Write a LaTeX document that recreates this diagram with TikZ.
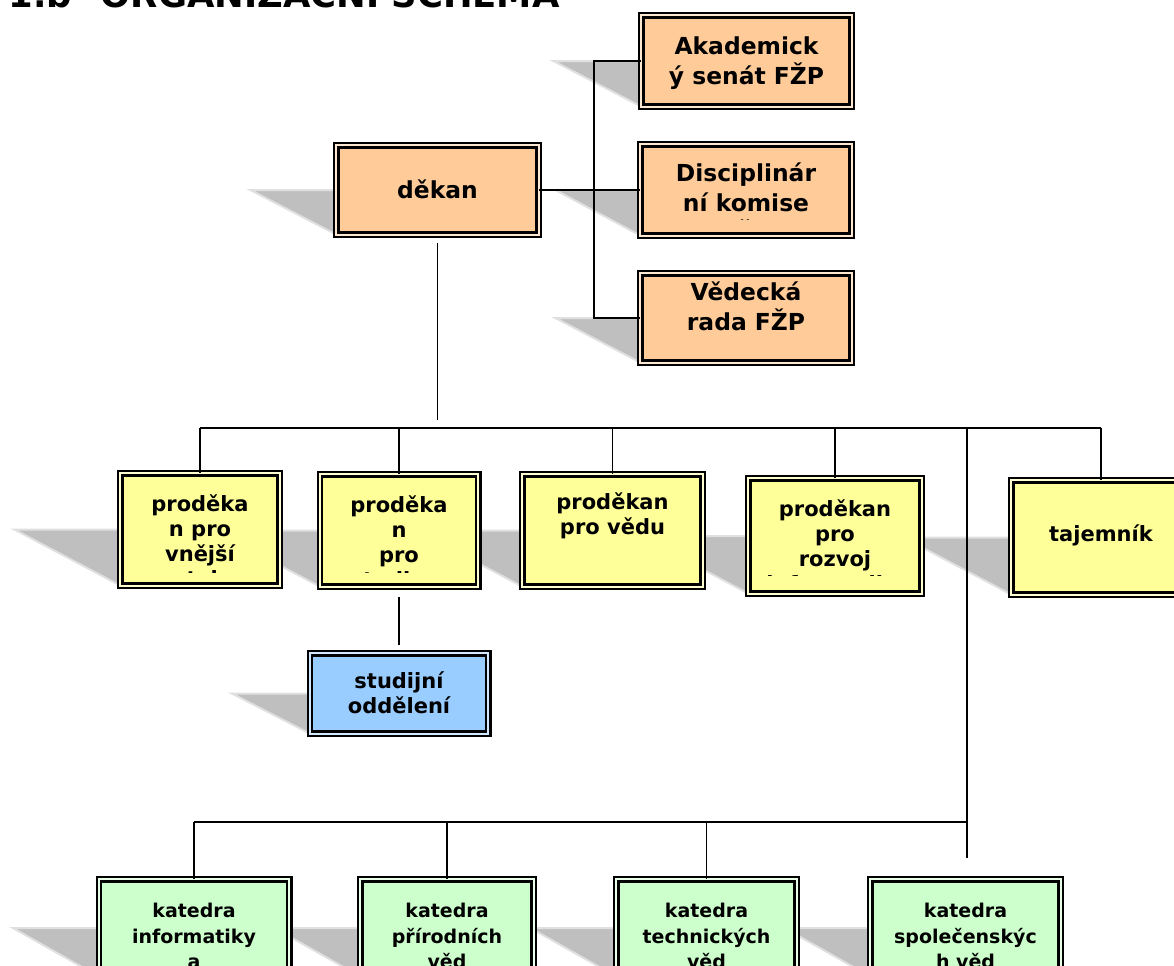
\documentclass[tikz,border=0pt]{standalone}
\usepackage{fontspec}
\setmainfont{DejaVu Sans}
\usetikzlibrary{calc}

\pgfdeclarelayer{background}
\pgfsetlayers{background,main}

\definecolor{orgfill}{HTML}{FFCC99}
\definecolor{prodfill}{HTML}{FFFF99}
\definecolor{studfill}{HTML}{99CCFF}
\definecolor{katfill}{HTML}{CCFFCC}

\tikzset{
  unitbox/.style={draw=black, fill=#1, double=white!55!#1, double distance=1pt, line width=1.2pt, inner sep=0pt, outer sep=0pt},
  shad/.style={fill=black!25, draw=black!12, line width=1pt},
  conn/.style={draw=black, line width=0.6pt},
  orgtext/.style={font=\bfseries\fontsize{11.7}{15}\selectfont, align=center, inner sep=0pt},
  prodtext/.style={font=\bfseries\fontsize{10.5}{12.5}\selectfont, align=center, inner sep=0pt},
  kattext/.style={font=\bfseries\fontsize{9.5}{12.7}\selectfont, align=center, inner sep=0pt},
  titletext/.style={font=\bfseries\fontsize{17.7}{21}\selectfont, inner sep=0pt}
}

\begin{document}
\begin{tikzpicture}[x=0.5pt, y=-0.5pt]

\useasboundingbox (0,0) rectangle (1174,965);
\clip (0,0) rectangle (1174,965);

% Heading (cut at the top)
\node[titletext, anchor=base west] (title) at (8,7) {1.b\hspace*{14.5pt}ORGANIZAČNÍ SCHÉMA};

%%%%%%%%%%%%%%%%%%%%%%%%%%%%%%%%%%%%%%%%%%%%%%%%%%%%%%%%%%%%%%%%
% Dean and councils
%%%%%%%%%%%%%%%%%%%%%%%%%%%%%%%%%%%%%%%%%%%%%%%%%%%%%%%%%%%%%%%%

\node[unitbox=orgfill, minimum width=101.1pt, minimum height=44.6pt] (dekan) at (437.5,190) {};
\node[orgtext] (dekan_t) at (437.5,189.5) {děkan};

\node[unitbox=orgfill, minimum width=105.1pt, minimum height=45.6pt] (akad) at (746.5,61) {};
\node[orgtext] (akad_t) at (746.5,63) {Akademick\\ý senát FŽP};

% text runs over the box, so it is cut
\node[unitbox=orgfill, minimum width=105.6pt, minimum height=45.6pt] (disc) at (746,190) {};
\begin{scope}
\clip (642,145) rectangle (850,219);
\node[orgtext] (disc_t) at (746,202.5) {Disciplinár\\ní komise\\FŽP};
\end{scope}

\node[unitbox=orgfill, minimum width=105.6pt, minimum height=44.6pt] (ved) at (746,318) {};
\node[orgtext] (ved_t) at (746,306) {Vědecká\\rada FŽP};

%%%%%%%%%%%%%%%%%%%%%%%%%%%%%%%%%%%%%%%%%%%%%%%%%%%%%%%%%%%%%%%%
% Vice-deans and secretary
%%%%%%%%%%%%%%%%%%%%%%%%%%%%%%%%%%%%%%%%%%%%%%%%%%%%%%%%%%%%%%%%

\node[unitbox=prodfill, minimum width=79.6pt, minimum height=56.1pt] (p1) at (200,529.5) {};
\begin{scope}
\clip (121,476) rectangle (279,572.5);
\node[prodtext] (p1_t) at (200,542.5) {proděka\\n pro\\vnější\\vztahy};
\end{scope}

\node[unitbox=prodfill, minimum width=79.1pt, minimum height=56.1pt] (p2) at (399,530.5) {};
\begin{scope}
\clip (322,476) rectangle (477,572.5);
\node[prodtext] (p2_t) at (399,541.5) {proděka\\n\\pro\\studium};
\end{scope}

\node[unitbox=prodfill, minimum width=90.1pt, minimum height=56.1pt] (p3) at (612.5,530.5) {};
\node[prodtext] (p3_t) at (612.5,515.5) {proděkan\\pro vědu};

\node[unitbox=prodfill, minimum width=86.6pt, minimum height=57.6pt] (p4) at (835,536) {};
\begin{scope}
\clip (750,481) rectangle (920,575.8);
\node[prodtext] (p4_t) at (835,547.5) {proděkan\\pro\\rozvoj\\informatiky};
\end{scope}

\node[unitbox=prodfill, minimum width=89.6pt, minimum height=57.1pt] (taj) at (1101,537.5) {};
\node[prodtext] (taj_t) at (1101,535) {tajemník};

% Study office
\node[unitbox=studfill, minimum width=89.1pt, minimum height=40.1pt] (stud) at (399,693.5) {};
\node[prodtext] (stud_t) at (399,693) {studijní\\oddělení};

%%%%%%%%%%%%%%%%%%%%%%%%%%%%%%%%%%%%%%%%%%%%%%%%%%%%%%%%%%%%%%%%
% Departments
%%%%%%%%%%%%%%%%%%%%%%%%%%%%%%%%%%%%%%%%%%%%%%%%%%%%%%%%%%%%%%%%

\node[unitbox=katfill, minimum width=95.1pt, minimum height=48.6pt] (k1) at (194,928) {};
\node[kattext] (k1_t) at (194,936) {katedra\\informatiky\\a};

\node[unitbox=katfill, minimum width=86.6pt, minimum height=48.6pt] (k2) at (447,928) {};
\node[kattext] (k2_t) at (447,936) {katedra\\přírodních\\věd};

\node[unitbox=katfill, minimum width=90.1pt, minimum height=48.6pt] (k3) at (706.5,928) {};
\node[kattext] (k3_t) at (706.5,936) {katedra\\technických\\věd};

\node[unitbox=katfill, minimum width=95.1pt, minimum height=48.6pt] (k4) at (965.5,928) {};
\node[kattext] (k4_t) at (965.5,936) {katedra\\společenskýc\\h věd};

%%%%%%%%%%%%%%%%%%%%%%%%%%%%%%%%%%%%%%%%%%%%%%%%%%%%%%%%%%%%%%%%
% Shadows
%%%%%%%%%%%%%%%%%%%%%%%%%%%%%%%%%%%%%%%%%%%%%%%%%%%%%%%%%%%%%%%%

\begin{pgfonlayer}{background}
\clip (0,0) rectangle (1174,965);
\draw[shad] ($(dekan.west)+(-86,0)$) -- (dekan.west) -- (dekan.south west) -- cycle;
\draw[shad] ($(akad.west)+(-88,0)$) -- (akad.west) -- (akad.south west) -- cycle;
\draw[shad] ($(disc.west)+(-85,0)$) -- (disc.west) -- (disc.south west) -- cycle;
\draw[shad] ($(ved.west)+(-85,0)$) -- (ved.west) -- (ved.south west) -- cycle;

\draw[shad] ($(p1.west)+(-106,0)$) -- (p1.west) -- (p1.south west) -- cycle;
\draw[shad] ($(p2.west)+(-106,0)$) -- (p2.west) -- (p2.south west) -- cycle;
\draw[shad] ($(p3.west)+(-106,0)$) -- (p3.west) -- (p3.south west) -- cycle;
\draw[shad] ($(p4.west)+(-108,0)$) -- (p4.west) -- (p4.south west) -- cycle;
\draw[shad] ($(taj.west)+(-108,0)$) -- (taj.west) -- (taj.south west) -- cycle;
\draw[shad] ($(stud.west)+(-78,0)$) -- (stud.west) -- (stud.south west) -- cycle;

\draw[shad] ($(k1.west)+(-86,0)$) -- (k1.west) -- (k1.south west) -- cycle;
\draw[shad] ($(k2.west)+(-86,0)$) -- (k2.west) -- (k2.south west) -- cycle;
\draw[shad] ($(k3.west)+(-86,0)$) -- (k3.west) -- (k3.south west) -- cycle;
\draw[shad] ($(k4.west)+(-86,0)$) -- (k4.west) -- (k4.south west) -- cycle;
\end{pgfonlayer}

%%%%%%%%%%%%%%%%%%%%%%%%%%%%%%%%%%%%%%%%%%%%%%%%%%%%%%%%%%%%%%%%
% Connectors
%%%%%%%%%%%%%%%%%%%%%%%%%%%%%%%%%%%%%%%%%%%%%%%%%%%%%%%%%%%%%%%%

% councils
\coordinate (sp_top) at (594,61);
\coordinate (sp_bot) at (594,318);
\draw[conn] (akad.west) -- (sp_top) -- (sp_bot) -- (ved.west);
\draw[conn] (dekan.east) -- (disc.west);

% dean --> vice-deans
\coordinate (dk_end) at (437.5,420);
\draw[conn] ([yshift=-4pt]dekan.south) -- (dk_end);

\coordinate (bus_w) at (200,428);
\draw[conn] (p1.north |- bus_w) -- (taj.north |- bus_w);
\draw[conn] (p1.north |- bus_w) -- (p1.north);
\draw[conn] (p2.north |- bus_w) -- (p2.north);
\draw[conn] (p3.north |- bus_w) -- (p3.north);
\draw[conn] (p4.north |- bus_w) -- (p4.north);
\draw[conn] (taj.north |- bus_w) -- (taj.north);

% vice-dean --> study office
\draw[conn] ([yshift=-5pt]p2.south) -- ([yshift=4.2pt]stud.north);

% dean --> departments
\coordinate (kat_top) at (967,428);
\coordinate (kat_end) at (967,858);
\draw[conn] (kat_top) -- (kat_end);

\coordinate (kbus_e) at (967,822);
\draw[conn] (k1.north |- kbus_e) -- (kbus_e);
\draw[conn] (k1.north |- kbus_e) -- (k1.north);
\draw[conn] (k2.north |- kbus_e) -- (k2.north);
\draw[conn] (k3.north |- kbus_e) -- (k3.north);

\end{tikzpicture}
\end{document}
